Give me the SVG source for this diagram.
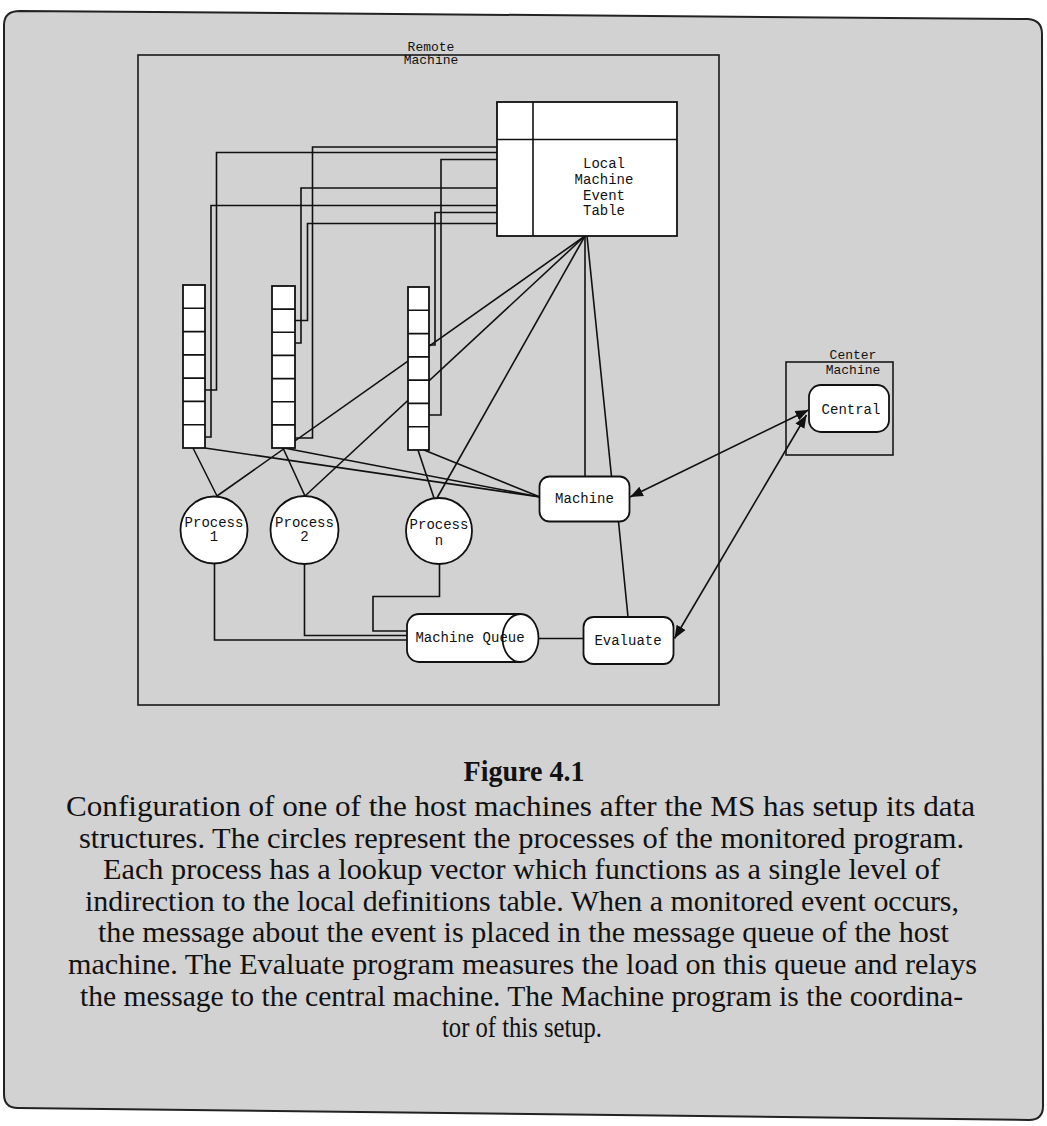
<svg xmlns="http://www.w3.org/2000/svg" width="1047" height="1126" viewBox="0 0 1047 1126">
<defs>
<style>
.ln{fill:none;stroke:#111;stroke-width:1.6}
.box{fill:#fff;stroke:#111;stroke-width:1.8}
.frame{fill:none;stroke:#1a1a1a;stroke-width:1.6}
.lbl{font-family:"Liberation Mono","Courier New",monospace;font-size:14px;fill:#111;text-anchor:middle}
.sm{font-size:13px}
.cap{font-family:"Liberation Serif","Times New Roman",serif;font-size:29px;fill:#111;text-anchor:middle}
</style>
<marker id="ah" viewBox="0 0 10 10" refX="10" refY="5" markerWidth="13" markerHeight="13" markerUnits="userSpaceOnUse" orient="auto-start-reverse"><path d="M0,1 L10,5 L0,9 z" fill="#111"/></marker>
</defs>
<rect width="1047" height="1126" fill="#fff"/>
<path id="page" d="M20 11 L1028 19 Q1042 20 1042 34 L1043 1106 Q1043 1120 1029 1120 L18 1108 Q4 1108 4 1094 L4 25 Q4 11 20 11 Z" fill="#d2d2d2" stroke="#222" stroke-width="2"/>

<g id="remote-machine">
<rect x="138" y="55" width="581" height="650" class="frame"/>
<text x="431" y="51" class="lbl sm">Remote</text>
<text x="431" y="64" class="lbl sm">Machine</text>
</g>
<g id="center-machine">
<rect x="786" y="362" width="107" height="93" class="frame"/>
<text x="853" y="359" class="lbl sm">Center</text>
<text x="853" y="374" class="lbl sm">Machine</text>
</g>

<g id="connectors" class="ln">
<polyline points="497,205.5 211,205.5 211,437 205,437"/>
<polyline points="497,152.5 216.5,152.5 216.5,390 205,390"/>
<polyline points="497,188 301,188 301,343 295,343"/>
<polyline points="497,223.5 307.5,223.5 307.5,320.5 295,320.5"/>
<polyline points="497,147 312.5,147 312.5,438 295,438"/>
<polyline points="497,212.5 435,212.5 435,345 429,345"/>
<polyline points="497,159.5 441,159.5 441,415 429,415"/>
<line x1="585" y1="236" x2="217" y2="496"/>
<line x1="585" y1="236" x2="305" y2="496"/>
<line x1="585" y1="236" x2="437" y2="498"/>
<line x1="585" y1="236" x2="585" y2="476.5"/>
<line x1="587" y1="236" x2="611.5" y2="476.5"/>
<line x1="193" y1="448" x2="217" y2="496"/>
<line x1="205" y1="448" x2="540" y2="497"/>
<line x1="283" y1="448" x2="305" y2="496"/>
<line x1="284" y1="448" x2="540" y2="497"/>
<line x1="418" y1="450" x2="434" y2="498"/>
<line x1="424" y1="450" x2="540" y2="497"/>
<polyline points="214.5,563.5 214.5,640 407,640"/>
<polyline points="304.5,564 304.5,635.5 407,635.5"/>
<polyline points="439.5,564 439.5,596.5 373,596.5 373,631 407,631"/>
<line x1="538.5" y1="638.5" x2="583.5" y2="638.5"/>
<line x1="618.5" y1="521.5" x2="628" y2="617"/>
<line x1="630" y1="497" x2="808.5" y2="410" marker-start="url(#ah)" marker-end="url(#ah)"/>
<line x1="674.5" y1="638.5" x2="806.5" y2="415" marker-start="url(#ah)" marker-end="url(#ah)"/>
</g>

<g id="event-table">
<rect x="497" y="102" width="180" height="134" class="box"/>
<line x1="533" y1="102" x2="533" y2="236" class="ln"/>
<line x1="497" y1="139.5" x2="677" y2="139.5" class="ln"/>
<text x="604" y="168" class="lbl">Local</text>
<text x="604" y="184" class="lbl">Machine</text>
<text x="604" y="200" class="lbl">Event</text>
<text x="604" y="215" class="lbl">Table</text>
</g>

<g id="vector1">
<rect x="183" y="285" width="22" height="163" class="box"/>
<path d="M183 308.3H205M183 331.6H205M183 354.9H205M183 378.1H205M183 401.4H205M183 424.7H205" class="ln"/>
</g>
<g id="vector2">
<rect x="272" y="286" width="23" height="162" class="box"/>
<path d="M272 309.1H295M272 332.3H295M272 355.4H295M272 378.6H295M272 401.7H295M272 424.9H295" class="ln"/>
</g>
<g id="vectorn">
<rect x="408" y="287" width="21" height="163" class="box"/>
<path d="M408 310.3H429M408 333.6H429M408 356.9H429M408 380.1H429M408 403.4H429M408 426.7H429" class="ln"/>
</g>

<g id="process1">
<circle cx="214" cy="530" r="33.5" class="box"/>
<text x="214" y="527" class="lbl">Process</text>
<text x="214" y="541" class="lbl">1</text>
</g>
<g id="process2">
<circle cx="304.5" cy="530" r="34" class="box"/>
<text x="304.5" y="527" class="lbl">Process</text>
<text x="304.5" y="541" class="lbl">2</text>
</g>
<g id="processn">
<circle cx="439" cy="531" r="33" class="box"/>
<text x="439" y="529" class="lbl">Process</text>
<text x="439" y="545" class="lbl">n</text>
</g>

<g id="machine">
<rect x="539.5" y="476.5" width="90" height="45" rx="10" class="box"/>
<text x="584.5" y="503" class="lbl">Machine</text>
</g>
<g id="machine-queue">
<path d="M520.5 614 H419 A12 12 0 0 0 407 626 V650 A12 12 0 0 0 419 662 H520.5" class="box"/>
<ellipse cx="520.5" cy="638" rx="18" ry="24" class="box"/>
<text x="470" y="642" class="lbl">Machine Queue</text>
</g>
<g id="evaluate">
<rect x="583.5" y="617" width="90" height="47" rx="10" class="box"/>
<text x="628" y="645" class="lbl">Evaluate</text>
</g>
<g id="central">
<rect x="809" y="385" width="80" height="47" rx="12" class="box"/>
<text x="851" y="414" class="lbl">Central</text>
</g>

<g id="caption">
<text x="524" y="781" class="cap" font-weight="bold" textLength="121" lengthAdjust="spacingAndGlyphs">Figure 4.1</text>
<text x="520.5" y="816" class="cap" textLength="909" lengthAdjust="spacingAndGlyphs">Configuration of one of the host machines after the MS has setup its data</text>
<text x="521.5" y="848" class="cap" textLength="885" lengthAdjust="spacingAndGlyphs">structures. The circles represent the processes of the monitored program.</text>
<text x="521.5" y="879" class="cap" textLength="837" lengthAdjust="spacingAndGlyphs">Each process has a lookup vector which functions as a single level of</text>
<text x="522" y="911" class="cap" textLength="874" lengthAdjust="spacingAndGlyphs">indirection to the local definitions table. When a monitored event occurs,</text>
<text x="523.5" y="942" class="cap" textLength="851" lengthAdjust="spacingAndGlyphs">the message about the event is placed in the message queue of the host</text>
<text x="522.5" y="974" class="cap" textLength="909" lengthAdjust="spacingAndGlyphs">machine. The Evaluate program measures the load on this queue and relays</text>
<text x="521.5" y="1006" class="cap" textLength="883" lengthAdjust="spacingAndGlyphs">the message to the central machine. The Machine program is the coordina-</text>
<text x="522" y="1037" class="cap" textLength="160" lengthAdjust="spacingAndGlyphs">tor of this setup.</text>
</g>
</svg>
